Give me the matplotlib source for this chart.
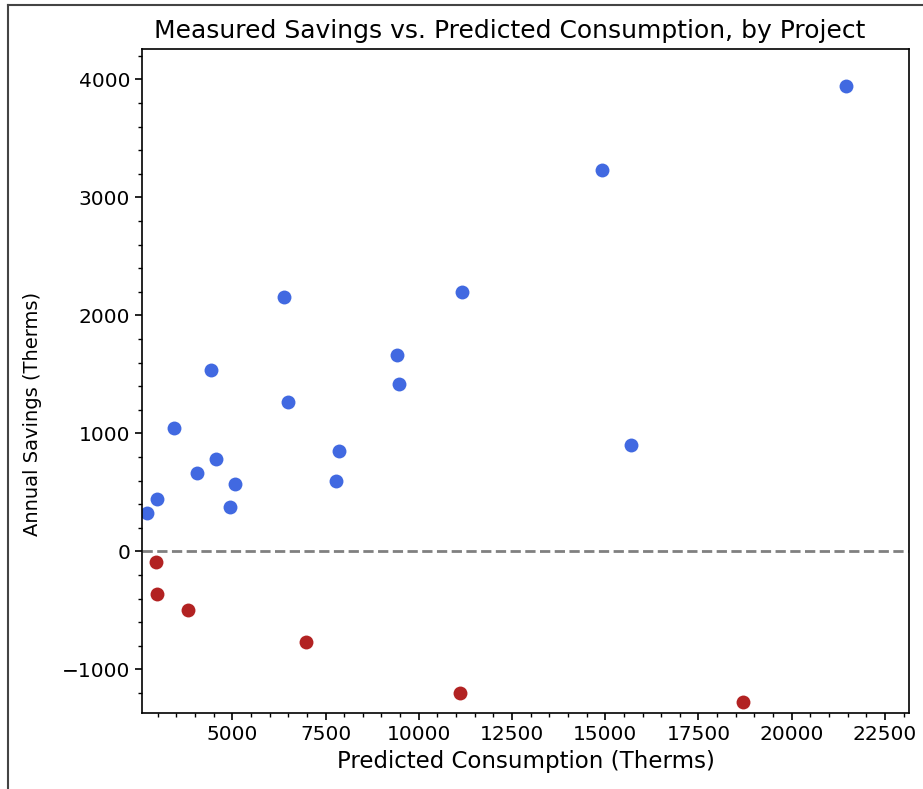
import matplotlib
matplotlib.use("Agg")
import matplotlib.pyplot as plt
from matplotlib.lines import Line2D

# projects with positive measured savings
pos_consumption = [2713, 2983, 3439, 4056, 4431, 4565, 4938, 5073, 6387, 6494,
                   7781, 7861, 9416, 9470, 11159, 14912, 15690, 21454]
pos_savings = [322, 441, 1042, 661, 1534, 780, 373, 568, 2153, 1263,
               593, 847, 1661, 1415, 2195, 3229, 898, 3941]

# projects with negative measured savings
neg_consumption = [2956, 2983, 3814, 6976, 11105, 18692]
neg_savings = [-93, -364, -500, -771, -1203, -1280]

fig = plt.figure(figsize=(9.23, 7.89), dpi=100)
ax = fig.add_axes([0.1538, 0.0959, 0.831, 0.842])

ax.scatter(pos_consumption, pos_savings, color="royalblue", s=100, linewidths=0)
ax.scatter(neg_consumption, neg_savings, color="firebrick", s=100, linewidths=0)
ax.axhline(0, color="gray", linestyle="--", linewidth=2)

ax.set_xlim(2579, 23143)
ax.set_ylim(-1373, 4257)
ax.set_xticks([5000, 7500, 10000, 12500, 15000, 17500, 20000, 22500])
ax.minorticks_on()
ax.tick_params(axis="both", which="major", labelsize=14.5, length=5, width=1.2)
ax.tick_params(axis="both", which="minor", length=3, width=1)
for s in ax.spines.values():
    s.set_linewidth(1.2)

ax.set_title("Measured Savings vs. Predicted Consumption, by Project", fontsize=18, x=0.479, pad=8)
ax.set_xlabel("Predicted Consumption (Therms)", fontsize=16.5)
ax.set_ylabel("Annual Savings (Therms)", fontsize=14)
ax.yaxis.set_label_coords(-0.13, 0.45)

# screenshot frame lines
fig.add_artist(Line2D([8 / 923, 8 / 923], [0, 1 - 5 / 789], color="#444444", linewidth=1.5))
fig.add_artist(Line2D([8 / 923, 1], [1 - 5 / 789, 1 - 5 / 789], color="#444444", linewidth=1.5))

fig.savefig("out.png", dpi=100)
